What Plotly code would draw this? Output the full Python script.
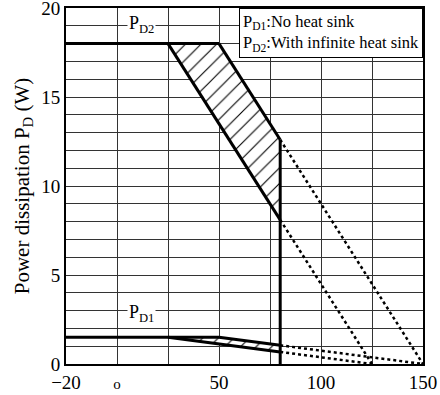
import plotly.graph_objects as go

# --- data ---
# P_D2 : with infinite heat sink
pd2_flat_x = [-25, 25, 50]
pd2_flat_y = [18, 18, 18]
pd2_low_x = [25, 80]
pd2_low_y = [18, 8.1]
pd2_high_x = [50, 80]
pd2_high_y = [18, 12.6]
pd2_dot_low_x = [80, 125]
pd2_dot_low_y = [8.1, 0]
pd2_dot_high_x = [80, 150]
pd2_dot_high_y = [12.6, 0]

# P_D1 : no heat sink
pd1_flat_x = [-25, 25, 50]
pd1_flat_y = [1.5, 1.5, 1.5]
pd1_low_x = [25, 80]
pd1_low_y = [1.5, 0.68]
pd1_high_x = [50, 80]
pd1_high_y = [1.5, 1.05]
pd1_dot_low_x = [80, 125]
pd1_dot_low_y = [0.68, 0]
pd1_dot_high_x = [80, 150]
pd1_dot_high_y = [1.05, 0]

# operating limit (vertical)
limit_x = [80, 80]
limit_y = [12.6, 0]

# axes ticks
x_tickvals = [-25, 0, 50, 100, 150]
x_ticktext = ["\u221220", "<span style='font-size:15px'>o</span>", "50", "100", "150"]
y_tickvals = [0, 5, 10, 15, 20]
y_ticktext = ["0", "5", "10", "15", "20"]

FONT = "Liberation Serif"
fig = go.Figure()

def line(x, y, dash="solid", w=3):
    fig.add_trace(go.Scatter(x=x, y=y, mode="lines",
                             line=dict(color="black", width=w, dash=dash),
                             hoverinfo="skip", showlegend=False))

def hatch(xa, ya, xb, yb):
    px = list(xa) + list(reversed(xb))
    py = list(ya) + list(reversed(yb))
    fig.add_trace(go.Scatter(x=px, y=py, mode="lines", fill="toself",
                             line=dict(width=0, color="rgba(0,0,0,0)"),
                             fillcolor="white",
                             fillpattern=dict(shape="/", size=11, solidity=0.1,
                                              fgcolor="black", fgopacity=1, bgcolor="white"),
                             hoverinfo="skip", showlegend=False))

hatch(pd2_low_x, pd2_low_y, [pd2_flat_x[1], pd2_flat_x[2]] + pd2_high_x[1:], [pd2_flat_y[1], pd2_flat_y[2]] + pd2_high_y[1:])
hatch(pd1_low_x, pd1_low_y, [pd1_flat_x[1], pd1_flat_x[2]] + pd1_high_x[1:], [pd1_flat_y[1], pd1_flat_y[2]] + pd1_high_y[1:])

for xs, ys in [(pd2_flat_x, pd2_flat_y), (pd2_low_x, pd2_low_y), (pd2_high_x, pd2_high_y),
               (pd1_flat_x, pd1_flat_y), (pd1_low_x, pd1_low_y), (pd1_high_x, pd1_high_y),
               (limit_x, limit_y)]:
    line(xs, ys)
for xs, ys in [(pd2_dot_low_x, pd2_dot_low_y), (pd2_dot_high_x, pd2_dot_high_y),
               (pd1_dot_low_x, pd1_dot_low_y), (pd1_dot_high_x, pd1_dot_high_y)]:
    line(xs, ys, dash="dot", w=2.5)

# curve labels
fig.add_annotation(x=12, y=19.05, text="P<sub>D2</sub>", showarrow=False,
                   font=dict(family=FONT, size=18, color="black"), bgcolor="white")
fig.add_annotation(x=12, y=2.85, text="P<sub>D1</sub>", showarrow=False,
                   font=dict(family=FONT, size=18, color="black"), bgcolor="white")

# legend box
fig.add_annotation(xref="paper", yref="paper", x=1, y=1, xanchor="right", yanchor="top",
                   text="P<sub>D1</sub>:No heat sink<br>P<sub>D2</sub>:With infinite heat sink",
                   showarrow=False, align="left",
                   font=dict(family=FONT, size=16.5, color="black"),
                   bgcolor="white", bordercolor="black", borderwidth=1, borderpad=3)

grid_c = "#333333"
fig.update_layout(
    width=440, height=395,
    margin=dict(l=66, r=17, t=8, b=31, autoexpand=False),
    paper_bgcolor="white", plot_bgcolor="white",
    font=dict(family=FONT, color="black"),
    xaxis=dict(range=[-25, 150], tickvals=x_tickvals, ticktext=x_ticktext,
               showgrid=True, gridcolor=grid_c, gridwidth=1,
               minor=dict(tick0=0, dtick=25, showgrid=True, gridcolor=grid_c, gridwidth=1),
               showline=True, linecolor="black", linewidth=2, mirror=True,
               ticks="", zeroline=False, ticklabeloverflow="allow", automargin=False,
               tickfont=dict(family=FONT, size=19)),
    yaxis=dict(range=[0, 20], tickvals=y_tickvals, ticktext=y_ticktext,
               showgrid=True, gridcolor=grid_c, gridwidth=1,
               minor=dict(tick0=0, dtick=1, showgrid=True, gridcolor=grid_c, gridwidth=1),
               showline=True, linecolor="black", linewidth=2, mirror=True,
               ticks="", zeroline=False, ticklabeloverflow="allow", automargin=False,
               tickfont=dict(family=FONT, size=19),
               title=dict(text="Power dissipation P<sub>D</sub> (W)",
                          font=dict(family=FONT, size=21), standoff=6)),
)

fig.write_html("out.html")
